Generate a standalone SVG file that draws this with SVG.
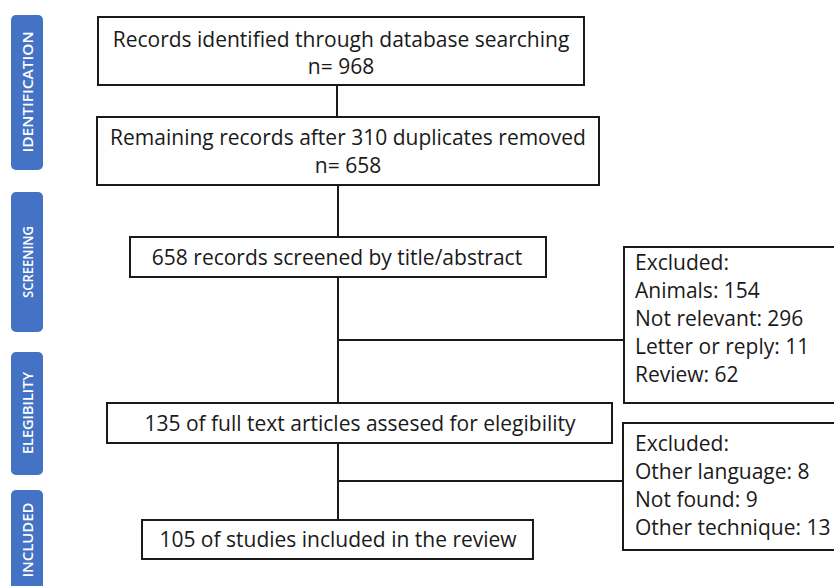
<svg xmlns="http://www.w3.org/2000/svg" width="834" height="586" viewBox="0 0 834 586">
<style>
.tab{fill:#4472C4;}
.tabt{fill:#ffffff;font-family:"Open Sans","Liberation Sans",sans-serif;font-size:15px;font-weight:600;text-anchor:middle;dominant-baseline:central;}
.box{fill:#ffffff;stroke:#1a1a1a;stroke-width:2;}
.t{fill:#1a1a1a;font-family:"Open Sans","Liberation Sans",sans-serif;font-size:21px;}
.c{text-anchor:middle;}
.ln{stroke:#1a1a1a;stroke-width:2;fill:none;}
</style>
<rect width="834" height="586" fill="#ffffff"/>
<g id="tab-identification">
<rect class="tab" x="11" y="15" width="32" height="155" rx="5"/>
<text class="tabt" transform="translate(27,92) rotate(-90)" textLength="121" lengthAdjust="spacingAndGlyphs">IDENTIFICATION</text>
</g>
<g id="tab-screening">
<rect class="tab" x="11" y="192" width="32" height="140" rx="5"/>
<text class="tabt" transform="translate(27,262) rotate(-90)" textLength="72" lengthAdjust="spacingAndGlyphs">SCREENING</text>
</g>
<g id="tab-elegibility">
<rect class="tab" x="11" y="352" width="32" height="123" rx="5"/>
<text class="tabt" transform="translate(27,413) rotate(-90)" textLength="82" lengthAdjust="spacingAndGlyphs">ELEGIBILITY</text>
</g>
<g id="tab-included">
<rect class="tab" x="11" y="490" width="32" height="110" rx="5"/>
<text class="tabt" transform="translate(27,540) rotate(-90)" textLength="75" lengthAdjust="spacingAndGlyphs">INCLUDED</text>
</g>
<g id="connectors">
<line class="ln" x1="337" y1="85" x2="337" y2="117"/>
<line class="ln" x1="338" y1="185" x2="338" y2="237"/>
<line class="ln" x1="338" y1="277" x2="338" y2="403"/>
<line class="ln" x1="338" y1="340" x2="624" y2="340"/>
<line class="ln" x1="338" y1="443" x2="338" y2="520"/>
<line class="ln" x1="338" y1="481" x2="623" y2="481"/>
</g>
<g id="n1">
<rect class="box" x="98" y="17" width="486" height="68"/>
<text class="t c" x="341" y="47">Records identified through database searching</text>
<text class="t c" x="341" y="74">n= 968</text>
</g>
<g id="n2">
<rect class="box" x="97" y="117" width="502" height="68"/>
<text class="t c" x="348" y="145">Remaining records after 310 duplicates removed</text>
<text class="t c" x="348" y="173">n= 658</text>
</g>
<g id="n3">
<rect class="box" x="130" y="237" width="416" height="40"/>
<text class="t c" x="337" y="265">658 records screened by title/abstract</text>
</g>
<g id="n4">
<rect class="box" x="107" y="403" width="505" height="40"/>
<text class="t c" x="360" y="431">135 of full text articles assesed for elegibility</text>
</g>
<g id="n5">
<rect class="box" x="142" y="520" width="391" height="39"/>
<text class="t c" x="338" y="547">105 of studies included in the review</text>
</g>
<g id="excluded1">
<rect class="box" x="624" y="247" width="220" height="156"/>
<text class="t" x="635" y="270">Excluded:</text>
<text class="t" x="635" y="298">Animals: 154</text>
<text class="t" x="635" y="326">Not relevant: 296</text>
<text class="t" x="635" y="354">Letter or reply: 11</text>
<text class="t" x="635" y="382">Review: 62</text>
</g>
<g id="excluded2">
<rect class="box" x="623" y="423" width="220" height="127"/>
<text class="t" x="635" y="451">Excluded:</text>
<text class="t" x="635" y="479">Other language: 8</text>
<text class="t" x="635" y="507">Not found: 9</text>
<text class="t" x="635" y="535">Other technique: 13</text>
</g>
</svg>
